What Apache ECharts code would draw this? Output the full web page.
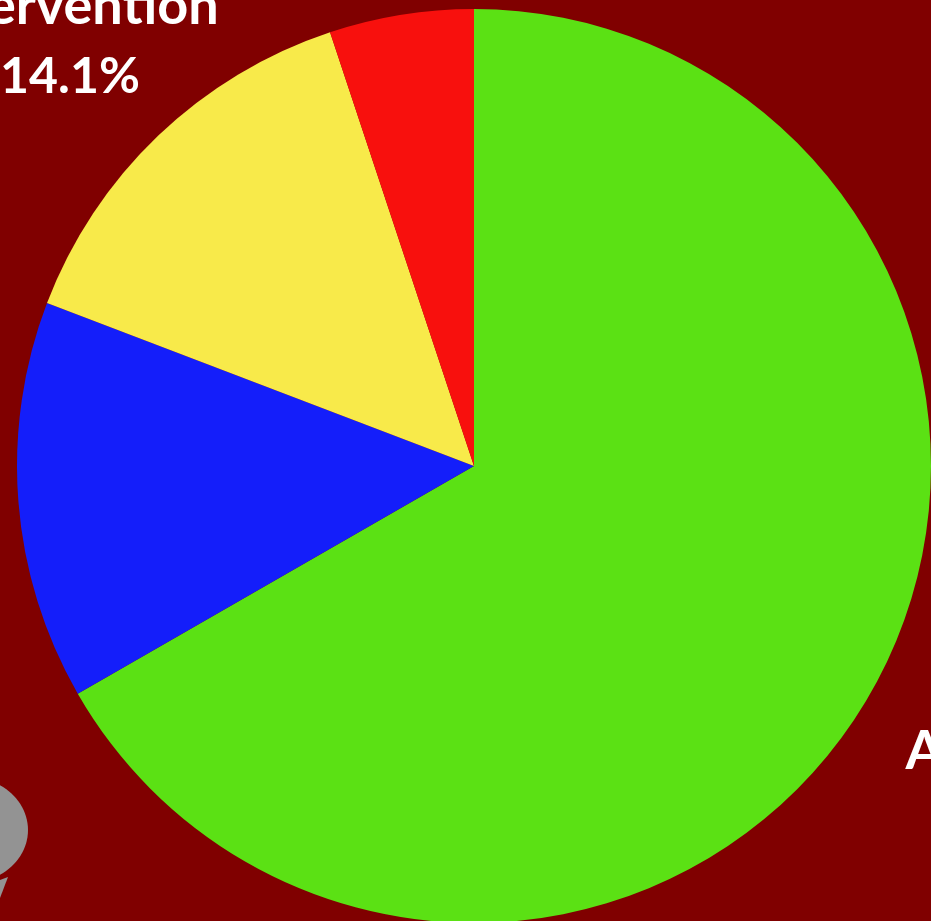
<!DOCTYPE html>
<html>
<head>
<meta charset="utf-8">
<style>html,body{margin:0;padding:0;background:#800000;overflow:hidden}#c{width:931px;height:921px}</style>
<script src="https://cdn.jsdelivr.net/npm/echarts@6/dist/echarts.min.js"></script>
</head>
<body>
<div id="c"></div>
<script>
const categories = ['Adherent', 'Other', 'Intervention', 'Missing'];
const values = [66.7, 14.1, 14.1, 5.1];
const colors = ['#5be114', '#141efa', '#f8ea4a', '#f8100d'];
const labelled = ['Adherent', 'Intervention'];

const chart = echarts.init(document.getElementById('c'), null, {renderer: 'canvas'});
chart.setOption({
  backgroundColor: '#800000',
  animation: false,
  series: [{
    type: 'pie',
    center: [474, 466],
    radius: [0, 457],
    startAngle: 90,
    clockwise: true,
    avoidLabelOverlap: false,
    silent: true,
    data: categories.map((name, i) => ({
      name,
      value: values[i],
      itemStyle: {color: colors[i]},
      label: {show: labelled.includes(name)},
      labelLine: {show: false}
    })),
    label: {
      position: 'outside',
      formatter: '{n|{b}}\n{p|{c}%}',
      color: '#ffffff',
      fontFamily: '"Comic Sans MS", Lato, "Noto Sans", sans-serif',
      fontWeight: 'bold',
      align: 'center',
      rich: {
        n: {fontSize: 54, lineHeight: 70, color: '#ffffff', fontWeight: 'bold', fontFamily: 'Lato', align: 'center'},
        p: {fontSize: 50, lineHeight: 70, color: '#ffffff', fontWeight: 'bold', fontFamily: 'Lato', align: 'center'}
      }
    },
    labelLayout: (p) => p.dataIndex === 0
      ? {x: 1018, y: 787, align: 'center', verticalAlign: 'middle', hideOverlap: false}
      : {x: 70, y: 42, align: 'center', verticalAlign: 'middle', hideOverlap: false}
  }],
  graphic: [
    {type: 'ellipse', z: 10, shape: {cx: -32, cy: 830, rx: 60, ry: 53}, style: {fill: '#939393'}, silent: true},
    {type: 'polygon', z: 10, shape: {points: [[0, 880], [8, 877], [0, 898]]}, style: {fill: '#939393'}, silent: true}
  ]
});
</script>
</body>
</html>
